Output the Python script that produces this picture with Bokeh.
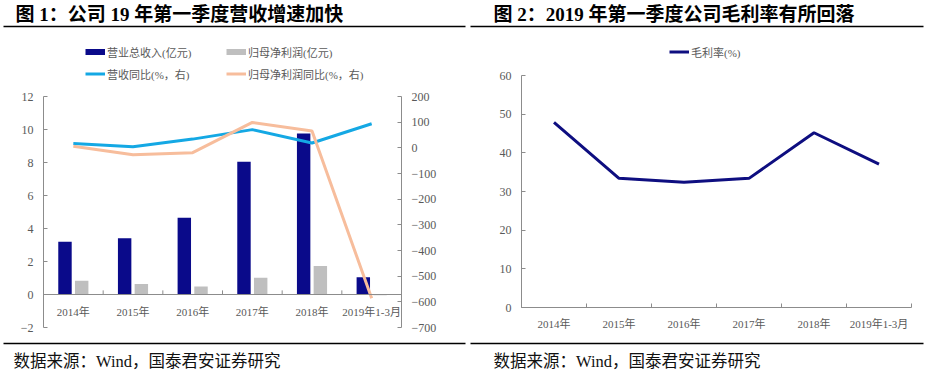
from bokeh.plotting import figure
from bokeh.layouts import row, column
from bokeh.models import (Range1d, LinearAxis, FixedTicker, Legend, LegendItem, Span,
                          ColumnDataSource, CustomJSTickFormatter)
from bokeh.transform import dodge
from bokeh.core.properties import value
from bokeh.embed import file_html
from bokeh.resources import INLINE

# ---------------- data ----------------
categories = ["2014年", "2015年", "2016年", "2017年", "2018年", "2019年1-3月"]
revenue = [3.20, 3.41, 4.65, 8.04, 9.76, 1.04]          # 营业总收入(亿元)
net_profit = [0.83, 0.64, 0.48, 1.01, 1.72, -0.04]      # 归母净利润(亿元)
revenue_yoy = [17, 4, 34, 71, 19, 94]                   # 营收同比(%)
profit_yoy = [6, -27, -19, 99, 66, -586]                # 归母净利润同比(%)
gross_margin = [47.9, 33.4, 32.4, 33.4, 45.2, 37.1]     # 毛利率(%)

left_ticks = [-2, 0, 2, 4, 6, 8, 10, 12]
right_ticks = [-700, -600, -500, -400, -300, -200, -100, 0, 100, 200]
margin_ticks = [0, 10, 20, 30, 40, 50, 60]

title1 = "图 1：公司 19 年第一季度营收增速加快"
title2 = "图 2：2019 年第一季度公司毛利率有所回落"
source_text = "数据来源：Wind，国泰君安证券研究"
legend1 = ["营业总收入(亿元)", "归母净利润(亿元)", "营收同比(%，右)", "归母净利润同比(%，右)"]
legend2 = "毛利率(%)"

# ---------------- style ----------------
FONT = "Liberation Serif, Noto Sans CJK SC"
AX = "#8C8C8C"
TXT = "#595959"
NAVY = "#0A0A8A"
GRAY = "#BFBFBF"
CYAN = "#14A8E4"
ORANGE = "#F7BD9C"
NAVY2 = "#0E0E80"
NAN = float("nan")


def blank_fig(width, height):
    f = figure(width=width, height=height, x_range=Range1d(0, width), y_range=Range1d(height, 0),
               output_backend="svg", toolbar_location=None, x_axis_location=None,
               y_axis_location=None, min_border=0, frame_align=False)
    f.outline_line_color = None
    f.xgrid.visible = False
    f.ygrid.visible = False
    return f


def make_header(width, height, text, text_x, x0, x1):
    h = blank_fig(width, height)
    h.text(x=[text_x], y=[14], text=[text], text_baseline="middle", text_align="left",
           text_font=value(FONT), text_font_style="bold", text_font_size="19px", text_color="#000000")
    h.line(x=[x0, x1], y=[26, 26], line_color="#000000", line_width=1.5)
    return h


def make_footer(width, height, text_x, x0, x1):
    f = blank_fig(width, height)
    f.line(x=[x0, x1], y=[2, 2], line_color="#000000", line_width=1.5)
    f.text(x=[text_x], y=[19.5], text=[source_text], text_baseline="middle", text_align="left",
           text_font=value(FONT), text_font_size="16.5px", text_color="#111111")
    return f


def style_axis(ax):
    ax.axis_line_color = AX
    ax.major_tick_line_color = AX
    ax.major_tick_in = 4
    ax.major_tick_out = 0
    ax.minor_tick_line_color = None
    ax.major_label_text_font = FONT
    ax.major_label_text_font_size = "12px"
    ax.major_label_text_color = TXT
    ax.major_label_standoff = 10


def style_legend(leg):
    leg.border_line_color = None
    leg.background_fill_alpha = 0
    leg.padding = 0
    leg.margin = 0
    leg.spacing = 6
    leg.glyph_width = 20
    leg.glyph_height = 15
    leg.label_height = 15
    leg.label_standoff = 2
    leg.label_text_font = FONT
    leg.label_text_font_size = "11px"
    leg.label_text_color = TXT


xs = [i + 0.5 for i in range(len(categories))]
FOOT_H = 29

# ---------------- left chart ----------------
src1 = ColumnDataSource(dict(x=xs, cat=categories, revenue=revenue, net_profit=net_profit,
                             revenue_yoy=revenue_yoy, profit_yoy=profit_yoy))

p1 = figure(width=466, height=253, x_range=Range1d(0, len(categories)), y_range=Range1d(-2, 12),
            output_backend="svg", toolbar_location=None, x_axis_location=None, frame_align=False,
            min_border_left=43, min_border_right=65, min_border_top=8, min_border_bottom=14)
p1.extra_y_ranges = {"yoy": Range1d(-700, 200)}
p1.outline_line_color = None
p1.xgrid.visible = False
p1.ygrid.visible = False
p1.yaxis.ticker = FixedTicker(ticks=left_ticks)
ax_r = LinearAxis(y_range_name="yoy", ticker=FixedTicker(ticks=right_ticks))
p1.add_layout(ax_r, "right")
for a in p1.yaxis:
    style_axis(a)

p1.add_layout(Span(location=0, dimension="width", line_color=AX, line_width=1))
sep = list(range(1, len(categories)))
p1.segment(x0=sep, y0=[0] * len(sep), x1=sep, y1=[0.25] * len(sep), line_color=AX, line_width=1)

p1.vbar(x=dodge("x", -0.14), top="revenue", width=0.225, fill_color=NAVY, line_color=None, source=src1)
p1.vbar(x=dodge("x", 0.14), top="net_profit", width=0.225, fill_color=GRAY, line_color=None, source=src1)
p1.line("x", "revenue_yoy", y_range_name="yoy", line_color=CYAN, line_width=3, source=src1)
p1.line("x", "profit_yoy", y_range_name="yoy", line_color=ORANGE, line_width=3, source=src1)

p1.text(x="x", y=-1.05, text="cat", source=src1, text_align="center", text_baseline="middle",
        text_font=value(FONT), text_font_size="11px", text_color=TXT)

# header with title, rule and legend (legend glyph proxies draw nothing: NaN data)
h1 = make_header(466, 88, title1, 15, 3, 465)
k1 = h1.line(x=[NAN], y=[NAN], line_color=NAVY, line_width=6)
k2 = h1.line(x=[NAN], y=[NAN], line_color=GRAY, line_width=6)
k3 = h1.line(x=[NAN], y=[NAN], line_color=CYAN, line_width=3)
k4 = h1.line(x=[NAN], y=[NAN], line_color=ORANGE, line_width=3)
leg1 = Legend(items=[LegendItem(label=legend1[0], renderers=[k1]),
                     LegendItem(label=legend1[1], renderers=[k2]),
                     LegendItem(label=legend1[2], renderers=[k3]),
                     LegendItem(label=legend1[3], renderers=[k4])],
              orientation="horizontal", ncols=2, location=(85, 6.5))
style_legend(leg1)
leg1.label_width = 113
h1.add_layout(leg1)

# ---------------- right chart ----------------
src2 = ColumnDataSource(dict(x=xs, cat=categories, gross_margin=gross_margin))
p2 = figure(width=463, height=274, x_range=Range1d(0, len(categories)), y_range=Range1d(0, 60),
            output_backend="svg", toolbar_location=None, frame_align=False,
            min_border_left=55, min_border_right=18, min_border_top=8, min_border_bottom=34)
p2.outline_line_color = None
p2.xgrid.visible = False
p2.ygrid.visible = False
p2.yaxis.ticker = FixedTicker(ticks=margin_ticks)
style_axis(p2.yaxis[0])
xa = p2.xaxis[0]
xa.ticker = FixedTicker(ticks=xs, minor_ticks=list(range(0, len(categories) + 1)))
xa.formatter = CustomJSTickFormatter(args=dict(labels=categories),
                                     code="return labels[Math.floor(tick)] || '';")
xa.axis_line_color = AX
xa.major_tick_line_color = None
xa.major_tick_in = 0
xa.major_tick_out = 0
xa.minor_tick_line_color = AX
xa.minor_tick_in = 4
xa.minor_tick_out = 0
xa.major_label_text_font = FONT
xa.major_label_text_font_size = "11px"
xa.major_label_text_color = TXT
xa.major_label_standoff = 10

p2.line("x", "gross_margin", line_color=NAVY2, line_width=3, source=src2)

h2 = make_header(463, 67, title2, 27, 4, 457)
k5 = h2.line(x=[NAN], y=[NAN], line_color=NAVY2, line_width=3)
leg2 = Legend(items=[LegendItem(label=legend2, renderers=[k5])],
              orientation="horizontal", location=(203, 7.5))
style_legend(leg2)
h2.add_layout(leg2)

# ---------------- layout ----------------
left = column(h1, p1, make_footer(466, FOOT_H, 13, 3, 465))
right = column(h2, p2, make_footer(463, FOOT_H, 27, 4, 457))
page = row(left, right)

open("out.html", "w").write(file_html(page, INLINE))
